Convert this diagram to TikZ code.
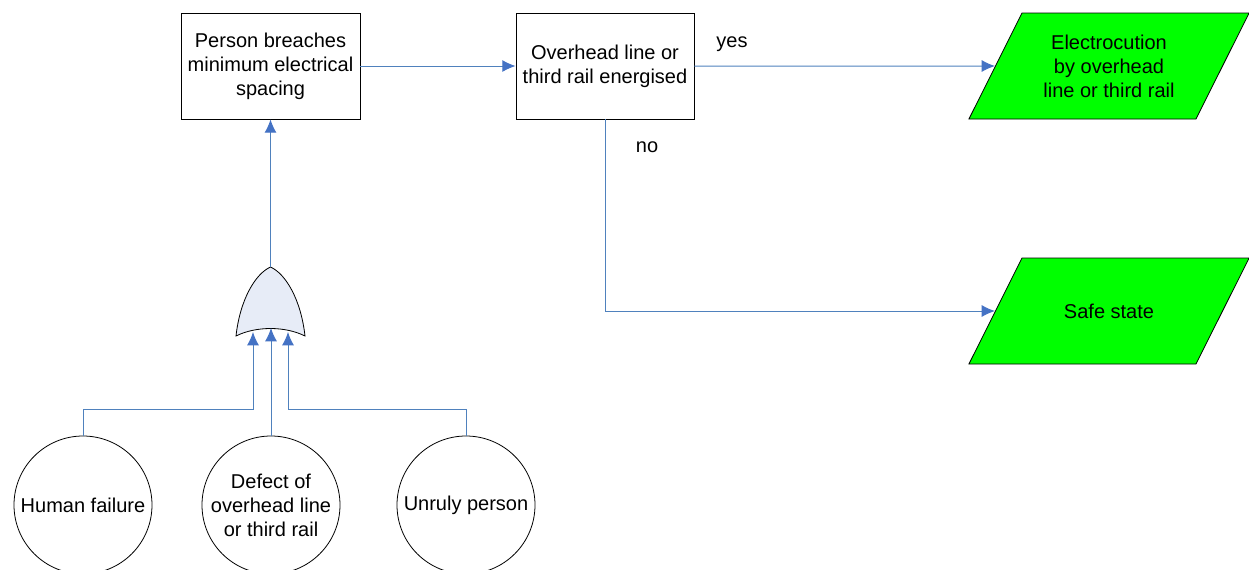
\documentclass[tikz,border=0pt]{standalone}
\usepackage{fontspec}
\setmainfont{Liberation Sans}
\usetikzlibrary{shapes.geometric,arrows.meta}
\definecolor{flowblue}{RGB}{79,129,189}
\definecolor{tipblue}{RGB}{68,114,196}
\definecolor{stategreen}{RGB}{0,255,0}
\definecolor{gategray}{RGB}{231,236,247}
\newcommand{\taillef}{\fontsize{15pt}{18pt}\selectfont}
\newcommand{\statetext}[1]{\parbox[c][75.5pt][c]{126.5pt}{\centering #1}}
\tikzset{
  eventbox/.style={draw,line width=0.6pt,align=center,font=\taillef,minimum height=79.5pt,inner sep=2pt},
  statebox/.style={draw,line width=0.6pt,fill=stategreen,font=\taillef,shape=trapezium,
    trapezium left angle=63.4,trapezium right angle=116.6,inner sep=2pt},
  causecircle/.style={draw,line width=0.6pt,circle,align=center,font=\taillef,minimum size=103.5pt,inner sep=0pt},
  flow/.style={draw=flowblue,line width=0.75pt,-{Latex[length=10pt,width=9pt,color=tipblue]}},
  flowlabel/.style={font=\taillef,inner sep=0pt,anchor=base}
}
\begin{document}
\begin{tikzpicture}[x=0.75pt,y=-0.75pt]
        \useasboundingbox (0,0) rectangle (1249,569);
        \node[eventbox,minimum width=134.25pt] (breach) at (270.5,66) {Person breaches\\ minimum electrical\\ spacing};
        \node[eventbox,minimum width=133.5pt] (energised) at (605,66) {Overhead line or\\ third rail energised};
        \draw[flow] (breach) -- (energised);
        \node[statebox] (electro) at (1109,66) {\statetext{Electrocution\\ by overhead\\ line or third rail}};
        \draw[flow] (energised) -- (electro);
        \node[flowlabel] (yes) at (732,47) {yes};
        \node[statebox] (safe) at (1109,311) {\statetext{Safe state}};
        \draw[flow] (energised.south) |- (safe);
        \node[flowlabel] (no) at (647,152) {no};
        % or gate
        \draw[line width=0.6pt,fill=gategray] (236,336) .. controls (240,300) and (255,274) .. (270.5,267)
          .. controls (286,274) and (301,300) .. (305,336)
          .. controls (285,326) and (256,326) .. (236,336) -- cycle;
        \coordinate (gatetop) at (270.5,267);
        \coordinate (gatein1) at (253,332);
        \coordinate (gatein2) at (271,328);
        \coordinate (gatein3) at (288,332);
        \draw[flow] (gatetop) -- (breach);
        \node[causecircle] (human) at (83,505) {Human failure};
        \coordinate (joinleft) at (253,409);
        \draw[flow] (human.north) |- (joinleft) -- (gatein1);
        \node[causecircle] (defect) at (271,505) {Defect of\\ overhead line\\ or third rail};
        \draw[flow] (defect.north) -- (gatein2);
        \node[causecircle] (unruly) at (466,505) {Unruly person};
        \coordinate (joinright) at (288,409);
        \draw[flow] (unruly.north) |- (joinright) -- (gatein3);
\end{tikzpicture}
\end{document}
